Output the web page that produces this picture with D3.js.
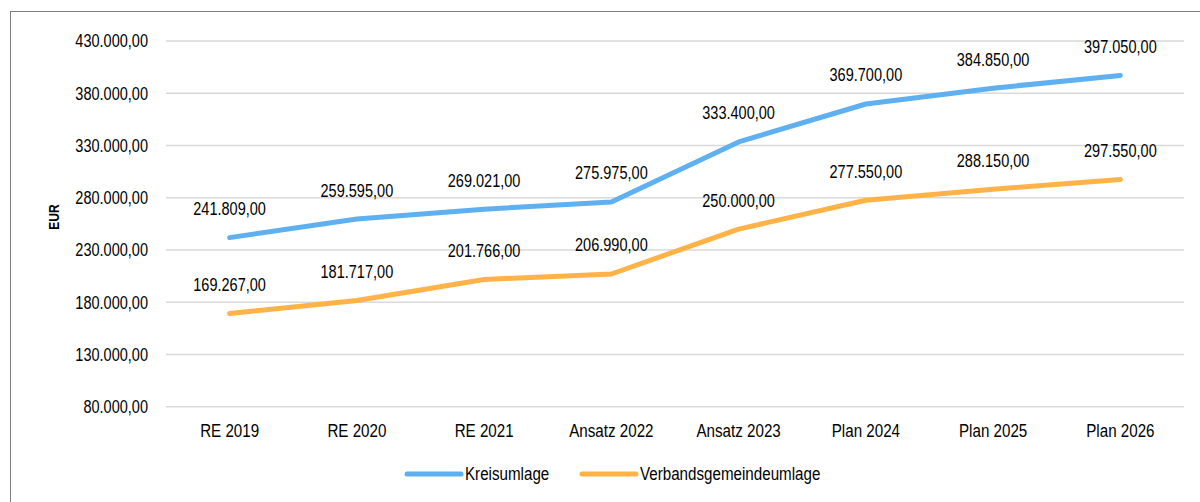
<!DOCTYPE html>
<html lang="de">
<head>
    <title>Umlagen</title>
    <script src="https://d3js.org/d3.v7.min.js"></script>
    <style>
        body { margin: 0; background: #fff; }
        text { font-family: "Liberation Sans", Arial, sans-serif; fill: #000; font-size: 18.5px; }
    </style>
</head>
<body>

<script>
    const categories = ['RE 2019', 'RE 2020', 'RE 2021', 'Ansatz 2022', 'Ansatz 2023', 'Plan 2024', 'Plan 2025', 'Plan 2026'];
    const kreisumlage = [241809, 259595, 269021, 275975, 333400, 369700, 384850, 397050];
    const verbandsumlage = [169267, 181717, 201766, 206990, 250000, 277550, 288150, 297550];
    const yTicks = [80000, 130000, 180000, 230000, 280000, 330000, 380000, 430000];

    const series = [
        {name: 'Kreisumlage', values: kreisumlage, color: '#5eb0f0'},
        {name: 'Verbandsgemeindeumlage', values: verbandsumlage, color: '#ffb347'}
    ];

    const de = d3.formatLocale({decimal: ',', thousands: '.', grouping: [3], currency: ['', ' €']});
    const fmt = de.format(',.2f');

    // the source font is a tall, condensed sans: squeeze Liberation Sans horizontally
    const numSqueeze = 0.785, txtSqueeze = 0.82;
    const place = (px, py, sx) => `translate(${px},${py}) scale(${sx},1)`;

    const width = 1200, height = 502;
    const svg = d3.select('body').append('svg').attr('width', width).attr('height', height);

    // outer frame (runs off right/bottom edge)
    svg.append('rect')
        .attr('x', 10.5).attr('y', 11.5)
        .attr('width', 1200).attr('height', 600)
        .attr('fill', 'none').attr('stroke', '#7f7f7f').attr('stroke-width', 1);

    const x = d3.scalePoint().domain(categories).range([166, 1184]).padding(0.5);
    const y = d3.scaleLinear().domain([80000, 430000]).range([406.7, 41]);

    // gridlines
    svg.append('g').selectAll('line')
        .data(yTicks).enter()
        .append('line')
        .attr('x1', 166).attr('x2', 1184)
        .attr('y1', d => y(d)).attr('y2', d => y(d))
        .attr('stroke', '#d9d9d9').attr('stroke-width', 1.5);

    // y axis labels
    svg.append('g').selectAll('text')
        .data(yTicks).enter()
        .append('text')
        .attr('transform', d => place(148, y(d), numSqueeze))
        .attr('dy', '0.35em')
        .attr('text-anchor', 'end')
        .text(d => fmt(d));

    svg.append('text')
        .attr('transform', 'translate(54,217) rotate(-90) scale(0.8,1)')
        .attr('text-anchor', 'middle')
        .attr('dy', '0.35em')
        .style('font-size', '15px')
        .style('font-weight', 'bold')
        .text('EUR');

    // x axis labels
    svg.append('g').selectAll('text')
        .data(categories).enter()
        .append('text')
        .attr('transform', d => place(x(d), 431, txtSqueeze))
        .attr('dy', '0.35em')
        .attr('text-anchor', 'middle')
        .text(d => d);

    const line = d3.line()
        .x((d, i) => x(categories[i]))
        .y(d => y(d));

    series.forEach(s => {
        svg.append('path')
            .datum(s.values)
            .attr('d', line)
            .attr('fill', 'none')
            .attr('stroke', s.color)
            .attr('stroke-width', 5)
            .attr('stroke-linecap', 'round')
            .attr('stroke-linejoin', 'round');

        svg.append('g').selectAll('text')
            .data(s.values).enter()
            .append('text')
            .attr('transform', (d, i) => place(x(categories[i]), y(d) - 29, numSqueeze))
            .attr('dy', '0.35em')
            .attr('text-anchor', 'middle')
            .text(d => fmt(d));
    });

    // legend
    const legend = svg.append('g');
    const legendPos = [407, 582];
    series.forEach((s, i) => {
        legend.append('line')
            .attr('x1', legendPos[i]).attr('x2', legendPos[i] + 54)
            .attr('y1', 474).attr('y2', 474)
            .attr('stroke', s.color).attr('stroke-width', 5)
            .attr('stroke-linecap', 'round');
        legend.append('text')
            .attr('transform', place(legendPos[i] + 58, 474, txtSqueeze))
            .attr('dy', '0.35em')
            .text(s.name);
    });
</script>

</body>
</html>
